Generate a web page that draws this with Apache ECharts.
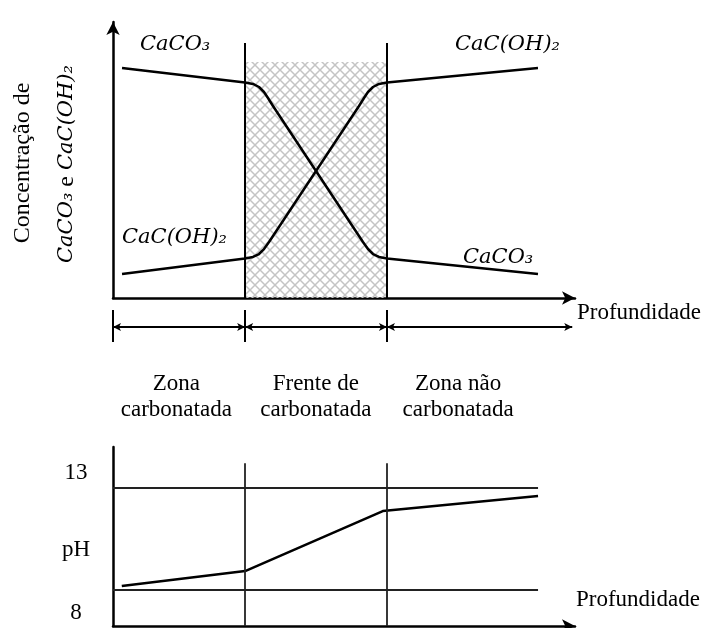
<!DOCTYPE html>
<html>
<head>
<meta charset="utf-8">
<script src="https://cdn.jsdelivr.net/npm/echarts@6/dist/echarts.min.js"></script>
<style>
  html, body { margin: 0; padding: 0; background: #fff; }
  #chart { width: 709px; height: 628px; }
</style>
</head>
<body>
<div id="chart"></div>
<script>
// depth runs 0..100 and concentration 0..100 (arbitrary units), pH in pH units
const zoneBounds = [0, 28.6, 59.3, 99.4];
const frontTop = 85.5;     // top of the hatched carbonation front
const dividerTop = 92.4;   // top of the zone divider lines

const caco3Depth = [1.95, 28.57, 30.30, 31.60, 32.68, 33.55, 34.63, 53.25, 54.11, 55.19, 56.28, 57.58, 59.31, 91.99];
const caco3Conc = [83.33, 78.08, 77.54, 76.45, 74.64, 72.46, 69.57, 22.46, 20.29, 17.75, 15.94, 14.86, 14.31, 8.70];
const cacohDepth = [1.95, 28.57, 30.30, 31.60, 32.68, 33.77, 34.63, 53.25, 54.33, 55.19, 56.28, 57.58, 59.31, 91.99];
const cacohConc = [8.70, 14.31, 14.86, 15.94, 17.75, 20.29, 22.46, 69.57, 72.46, 74.64, 76.45, 77.54, 78.08, 83.33];

const phDepth = [1.9, 28.6, 58.4, 92.0];
const phValue = [8.17, 8.90, 11.85, 12.59];
const phLimits = [8, 13];
const phLimitEnd = 92.0;
const phDividerTop = 14.2;

const zoneNames = ['Zona\ncarbonatada', 'Frente de\ncarbonatada', 'Zona não\ncarbonatada'];
const zoneLabelDepth = [13.7, 43.9, 74.7];

const zip = (xs, ys) => xs.map((x, i) => [x, ys[i]]);
const serif = '"Liberation Serif", "Times New Roman", serif';
const mathFont = 'italic 21px "DejaVu Serif", serif';
const plainFont = '23px ' + serif;

function hatchPattern() {
  const c = document.createElement('canvas');
  c.width = 10; c.height = 10;
  const ctx = c.getContext('2d');
  ctx.strokeStyle = '#c4c4c4';
  ctx.lineWidth = 1.5;
  ctx.beginPath();
  ctx.moveTo(0, 0); ctx.lineTo(10, 10);
  ctx.moveTo(10, 0); ctx.lineTo(0, 10);
  ctx.stroke();
  return c;
}

const chart = echarts.init(document.getElementById('chart'));

const axisArrow = (show) => ({
  show: true,
  symbol: show ? ['none', 'arrow'] : 'none',
  symbolSize: [10, 13],
  lineStyle: { color: '#000', width: 2.5 }
});
const bare = { axisTick: { show: false }, axisLabel: { show: false }, splitLine: { show: false } };

const vline = (x, y0, y1) => [{ coord: [x, y0] }, { coord: [x, y1] }];
const hline = (y, x0, x1) => [{ coord: [x0, y] }, { coord: [x1, y] }];

const option = {
  animation: false,
  grid: [
    { left: 113, right: 134, top: 22, bottom: 330 },
    { left: 113, right: 134, top: 310, height: 110 },
    { left: 113, right: 134, top: 447, bottom: 2 }
  ],
  xAxis: [
    { gridIndex: 0, type: 'value', min: 0, max: 100, axisLine: axisArrow(true), ...bare },
    { gridIndex: 1, type: 'value', min: 0, max: 100, show: false },
    { gridIndex: 2, type: 'value', min: 0, max: 100, axisLine: axisArrow(true), ...bare }
  ],
  yAxis: [
    { gridIndex: 0, type: 'value', min: 0, max: 100, axisLine: axisArrow(true), ...bare },
    { gridIndex: 1, type: 'value', min: 0, max: 110, inverse: true, show: false },
    { gridIndex: 2, type: 'value', min: 6.2, max: 15, axisLine: axisArrow(false), ...bare }
  ],
  series: [
    {
      // hatched front and zone dividers
      type: 'line', xAxisIndex: 0, yAxisIndex: 0, data: [], z: 1, silent: true,
      markArea: {
        silent: true,
        itemStyle: { color: { image: hatchPattern(), repeat: 'repeat' } },
        data: [[{ coord: [zoneBounds[1], 0] }, { coord: [zoneBounds[2], frontTop] }]]
      },
      markLine: {
        silent: true, symbol: 'none', label: { show: false },
        lineStyle: { type: 'solid', color: '#000', width: 2 },
        data: [vline(zoneBounds[1], 0, dividerTop), vline(zoneBounds[2], 0, dividerTop)]
      }
    },
    {
      name: 'CaCO3', type: 'line', xAxisIndex: 0, yAxisIndex: 0, z: 3,
      data: zip(caco3Depth, caco3Conc), showSymbol: false,
      lineStyle: { color: '#000', width: 2.5, join: 'round' }
    },
    {
      name: 'CaC(OH)2', type: 'line', xAxisIndex: 0, yAxisIndex: 0, z: 3,
      data: zip(cacohDepth, cacohConc), showSymbol: false,
      lineStyle: { color: '#000', width: 2.5, join: 'round' }
    },
    {
      // zone names with the dimension arrows
      type: 'scatter', xAxisIndex: 1, yAxisIndex: 1, symbolSize: 0, silent: true,
      itemStyle: { opacity: 1 },
      data: zoneNames.map((n, i) => ({ name: n, value: [zoneLabelDepth[i], 87] })),
      label: {
        show: true, position: 'inside', formatter: '{b}', color: '#000',
        textBorderWidth: 0, fontFamily: serif, fontSize: 23, lineHeight: 26
      },
      markLine: {
        silent: true, symbol: ['arrow', 'arrow'], symbolSize: [6, 8], label: { show: false },
        lineStyle: { type: 'solid', color: '#000', width: 2 },
        data: [0, 1, 2].map(i => hline(17, zoneBounds[i], zoneBounds[i + 1]))
      }
    },
    {
      type: 'line', xAxisIndex: 1, yAxisIndex: 1, data: [], silent: true,
      markLine: {
        silent: true, symbol: 'none', label: { show: false },
        lineStyle: { type: 'solid', color: '#000', width: 2 },
        data: [0, 1, 2].map(i => vline(zoneBounds[i], 0, 32))
      }
    },
    {
      name: 'pH', type: 'line', xAxisIndex: 2, yAxisIndex: 2, z: 3,
      data: zip(phDepth, phValue), showSymbol: false,
      lineStyle: { color: '#000', width: 2.5 },
      markLine: {
        silent: true, symbol: 'none', label: { show: false },
        lineStyle: { type: 'solid', color: '#222', width: 1.8 },
        data: phLimits.map(v => hline(v, 0, phLimitEnd))
          .concat([vline(zoneBounds[1], 6.2, phDividerTop), vline(zoneBounds[2], 6.2, phDividerTop)])
      }
    }
  ],
  graphic: [
    { type: 'text', x: 140, y: 45, style: { text: 'CaCO₃', font: mathFont, fill: '#000', verticalAlign: 'middle' } },
    { type: 'text', x: 122, y: 238, style: { text: 'CaC(OH)₂', font: mathFont, fill: '#000', verticalAlign: 'middle' } },
    { type: 'text', x: 455, y: 45, style: { text: 'CaC(OH)₂', font: mathFont, fill: '#000', verticalAlign: 'middle' } },
    { type: 'text', x: 463, y: 258, style: { text: 'CaCO₃', font: mathFont, fill: '#000', verticalAlign: 'middle' } },
    { type: 'text', x: 577, y: 313, style: { text: 'Profundidade', font: plainFont, fill: '#000', verticalAlign: 'middle' } },
    { type: 'text', x: 576, y: 600, style: { text: 'Profundidade', font: plainFont, fill: '#000', verticalAlign: 'middle' } },
    { type: 'text', x: 76, y: 473, style: { text: '13', font: plainFont, fill: '#000', align: 'center', verticalAlign: 'middle' } },
    { type: 'text', x: 76, y: 550, style: { text: 'pH', font: plainFont, fill: '#000', align: 'center', verticalAlign: 'middle' } },
    { type: 'text', x: 76, y: 613, style: { text: '8', font: plainFont, fill: '#000', align: 'center', verticalAlign: 'middle' } },
    {
      type: 'text', x: 23, y: 163, rotation: Math.PI / 2,
      style: { text: 'Concentração de', font: '24px ' + serif, fill: '#000', align: 'center', verticalAlign: 'middle' }
    },
    {
      type: 'text', x: 67, y: 164, rotation: Math.PI / 2,
      style: {
        text: '{m|CaCO₃}{t| e }{m|CaC(OH)₂}', fill: '#000', align: 'center', verticalAlign: 'middle',
        rich: {
          m: { fontFamily: '"DejaVu Serif", serif', fontStyle: 'italic', fontSize: 21 },
          t: { fontFamily: serif, fontSize: 24 }
        }
      }
    }
  ]
};

chart.setOption(option);
</script>
</body>
</html>
